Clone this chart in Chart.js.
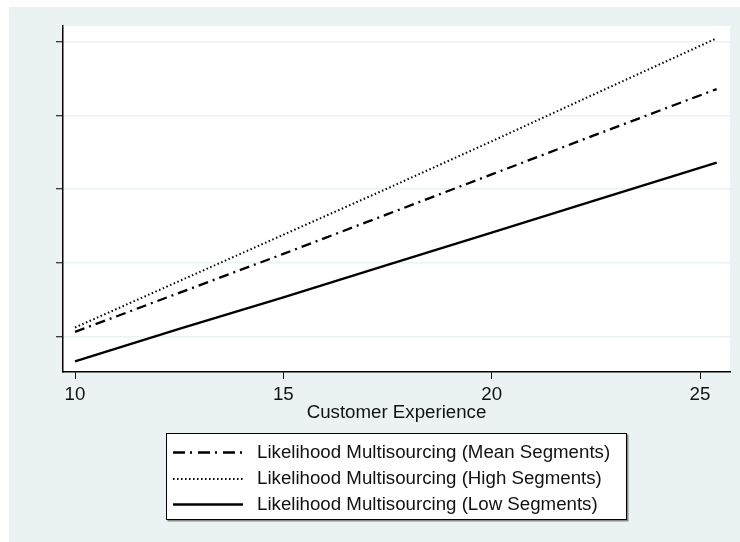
<!DOCTYPE html>
<html>
<head>
<meta charset="utf-8">
<script src="https://cdn.jsdelivr.net/npm/chart.js@4"></script>
<style>
  body { margin: 0; background: #fff; }
  #wrap { position: absolute; left: 9px; top: 7px; width: 731px; height: 535px; background: #eaf2f3; }
  canvas { display: block; }
</style>
</head>
<body>
<div id="wrap"><canvas id="chart" width="731" height="535"></canvas></div>
<script>
const experience = [10, 12.5, 15, 17.5, 20, 22.5, 25.4];
const meanSegments = [0.206, 0.259, 0.312, 0.366, 0.420, 0.474, 0.536];
const highSegments = [0.212, 0.275, 0.338, 0.401, 0.465, 0.530, 0.605];
const lowSegments = [0.166, 0.210, 0.253, 0.297, 0.341, 0.385, 0.436];

const xTicks = [10, 15, 20, 25];
const yTicks = [0.2, 0.3, 0.4, 0.5, 0.6];

const seriesLabels = [
  'Likelihood Multisourcing (Mean Segments)',
  'Likelihood Multisourcing (High Segments)',
  'Likelihood Multisourcing (Low Segments)'
];

const FONT = '"Liberation Sans", Arial, sans-serif';
const FONT_SIZE = 18.7;

const toPoints = (ys) => experience.map((x, i) => ({x, y: ys[i]}));

// white plot region on the bluish-gray page
const plotBackground = {
  id: 'plotBackground',
  beforeDraw(chart) {
    const {ctx, chartArea: a} = chart;
    ctx.save();
    ctx.fillStyle = '#fff';
    ctx.fillRect(a.left, a.top, a.right - a.left, a.bottom - a.top);
    ctx.restore();
  }
};

// boxed legend below the axis title, Stata style
const boxedLegend = {
  id: 'boxedLegend',
  afterDraw(chart) {
    const ctx = chart.ctx;
    const box = {x: 157, y: 426, w: 461, h: 87};
    ctx.save();
    ctx.fillStyle = '#8a8a8a';
    ctx.fillRect(box.x + 1.5, box.y + 1.5, box.w, box.h);
    ctx.fillStyle = '#fff';
    ctx.fillRect(box.x, box.y, box.w, box.h);
    ctx.strokeStyle = '#000';
    ctx.lineWidth = 1;
    ctx.strokeRect(box.x + 0.5, box.y + 0.5, box.w - 1, box.h - 1);

    const rows = [445.5, 472, 497.5];
    ctx.font = `${FONT_SIZE}px ${FONT}`;
    ctx.textBaseline = 'middle';
    chart.data.datasets.forEach((ds, i) => {
      const y = rows[i];
      ctx.beginPath();
      ctx.setLineDash(ds.legendDash || ds.borderDash || []);
      ctx.lineWidth = ds.borderWidth;
      ctx.strokeStyle = ds.borderColor;
      ctx.moveTo(164, y);
      ctx.lineTo(234, y);
      ctx.stroke();
      ctx.setLineDash([]);
      ctx.fillStyle = '#111';
      ctx.fillText(ds.label, 248, y);
    });
    ctx.restore();
  }
};

const config = {
  type: 'line',
  data: {
    datasets: [
      {
        label: seriesLabels[0],
        data: toPoints(meanSegments),
        borderColor: '#000',
        borderWidth: 2.3,
        borderDash: [10, 5, 2, 5],
        legendDash: [12, 5, 2, 6]
      },
      {
        label: seriesLabels[1],
        data: toPoints(highSegments),
        borderColor: '#000',
        borderWidth: 2,
        borderDash: [1.5, 2.5]
      },
      {
        label: seriesLabels[2],
        data: toPoints(lowSegments),
        borderColor: '#000',
        borderWidth: 2.3
      }
    ]
  },
  options: {
    responsive: false,
    animation: false,
    layout: {
      padding: {left: 47, top: 19, right: 10, bottom: 120}
    },
    elements: {
      point: { radius: 0 },
      line: { tension: 0 }
    },
    plugins: {
      legend: { display: false },
      tooltip: { enabled: false }
    },
    scales: {
      x: {
        type: 'linear',
        min: 9.712,
        max: 25.72,
        afterBuildTicks: (axis) => { axis.ticks = xTicks.map((v) => ({value: v})); },
        afterFit: (axis) => { axis.height = 50; },
        border: { color: '#000', width: 1.5 },
        grid: {
          drawOnChartArea: false,
          tickLength: 7,
          tickColor: '#000',
          lineWidth: 1
        },
        ticks: {
          color: '#111',
          padding: 6.65,
          maxRotation: 0,
          font: { family: FONT, size: FONT_SIZE, lineHeight: 1 }
        },
        title: {
          display: true,
          text: 'Customer Experience',
          color: '#111',
          padding: 0,
          font: { family: FONT, size: FONT_SIZE, lineHeight: 1 }
        }
      },
      y: {
        type: 'linear',
        min: 0.1515,
        max: 0.6217,
        afterBuildTicks: (axis) => { axis.ticks = yTicks.map((v) => ({value: v})); },
        afterFit: (axis) => { axis.width = 7; },
        border: { color: '#000', width: 1.5 },
        grid: {
          color: '#eaf2f3',
          lineWidth: 1.5,
          tickLength: 7,
          tickColor: '#000',
          tickWidth: 1
        },
        ticks: { display: false }
      }
    }
  },
  plugins: [plotBackground, boxedLegend]
};

const chart = new Chart(document.getElementById('chart').getContext('2d'), config);
</script>
</body>
</html>
